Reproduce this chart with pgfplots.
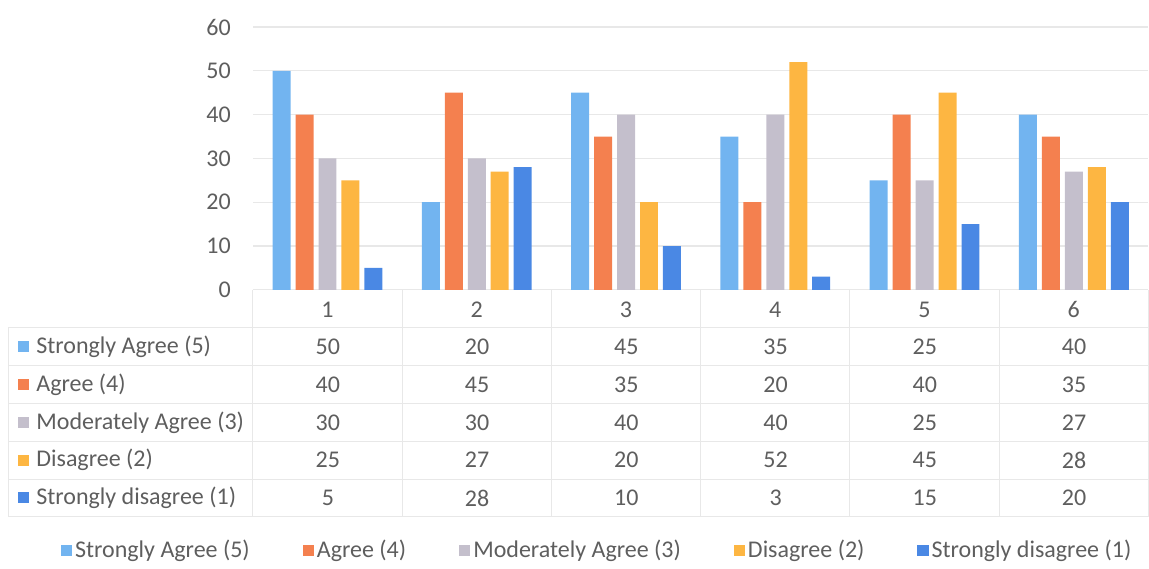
\documentclass[border=0pt]{standalone}
\usepackage{fontspec}
\setmainfont{Carlito}
\usepackage{pgfplots}
\usepackage{pgfplotstable}
\pgfplotsset{compat=1.18}

\definecolor{cSA}{HTML}{72B4F0}
\definecolor{cA}{HTML}{F4804F}
\definecolor{cMA}{HTML}{C4BFCC}
\definecolor{cD}{HTML}{FDB642}
\definecolor{cSD}{HTML}{4A88E4}
\definecolor{txt}{HTML}{5E5E5E}
\definecolor{grd}{HTML}{E8E8E8}

% one row per question, one column per answer
\pgfplotstableread{
cat SA A MA D SD
1 50 40 30 25 5
2 20 45 30 27 28
3 45 35 40 20 10
4 35 20 40 52 3
5 25 40 25 45 15
6 40 35 27 28 20
}\data

\newcommand{\fnt}{\fontsize{12}{14}\selectfont}

\begin{document}
\begin{tikzpicture}[font=\fnt, text=txt]
% table below the plot, in pixel units of the reference
\begin{scope}[x=0.5pt,y=-0.5pt]
\useasboundingbox (0,0) rectangle (1149,568);
\draw[grd] (253,290) -- (1149,290);
\foreach \yy in {328,366,404,442,480,517} \draw[grd] (8,\yy) -- (1149,\yy);
\draw[grd] (8,328) -- (8,517);
\foreach \i in {0,...,6} \draw[grd] ({253+149.33*\i},290) -- ({253+149.33*\i},517);
\foreach \lab/\col [count=\k] in {Strongly Agree (5)/cSA, Agree (4)/cA,
    Moderately Agree (3)/cMA, Disagree (2)/cD, Strongly disagree (1)/cSD} {
  \fill[\col] (18,{347+37.8*(\k-1)-5.5}) rectangle ++(11,11);
  \node[anchor=west, inner sep=0] at (36,{347+37.8*(\k-1)}) {\lab};
}
\foreach \r in {0,...,5} {
  \foreach \c [count=\k] in {SA,A,MA,D,SD} {
    \pgfplotstablegetelem{\r}{\c}\of\data
    \node at ({328+149.33*\r},{347+37.8*(\k-1)}) {\pgfplotsretval};
  }
}
\end{scope}

\begin{axis}[
  at={(126.5pt,-145pt)}, anchor=south west,
  scale only axis, width=448pt, height=131.5pt,
  xmin=0.5, xmax=6.5, ymin=0, ymax=60,
  ybar, bar width=9pt,
  axis line style={draw=none},
  major tick length=0,
  ytick={0,10,...,60}, xtick={1,...,6},
  ymajorgrids, grid style={grd, line width=0.6pt},
  /pgf/number format/assume math mode=true,
  tick label style={font=\fnt, text=txt},
  xticklabel style={anchor=center, yshift=-10pt},
  yticklabel style={xshift=-7.5pt},
  legend columns=5,
  legend image code/.code={\path[#1, draw=none] (0pt,-2.8pt) rectangle (5.6pt,2.8pt);},
  legend style={at={(0.385,-0.992)}, anchor=center, draw=none, fill=none,
    font=\fnt, text=txt, nodes={inner xsep=1.5pt},
    /tikz/every even column/.append style={column sep=25pt}},
]
\addplot[fill=cSA, draw=none, bar shift=-23pt] table[x=cat, y=SA] {\data};
\addplot[fill=cA, draw=none, bar shift=-11.5pt] table[x=cat, y=A] {\data};
\addplot[fill=cMA, draw=none, bar shift=0pt] table[x=cat, y=MA] {\data};
\addplot[fill=cD, draw=none, bar shift=11.5pt] table[x=cat, y=D] {\data};
\addplot[fill=cSD, draw=none, bar shift=23pt] table[x=cat, y=SD] {\data};
\legend{Strongly Agree (5), Agree (4), Moderately Agree (3), Disagree (2), Strongly disagree (1)}
\end{axis}
\end{tikzpicture}
\end{document}
